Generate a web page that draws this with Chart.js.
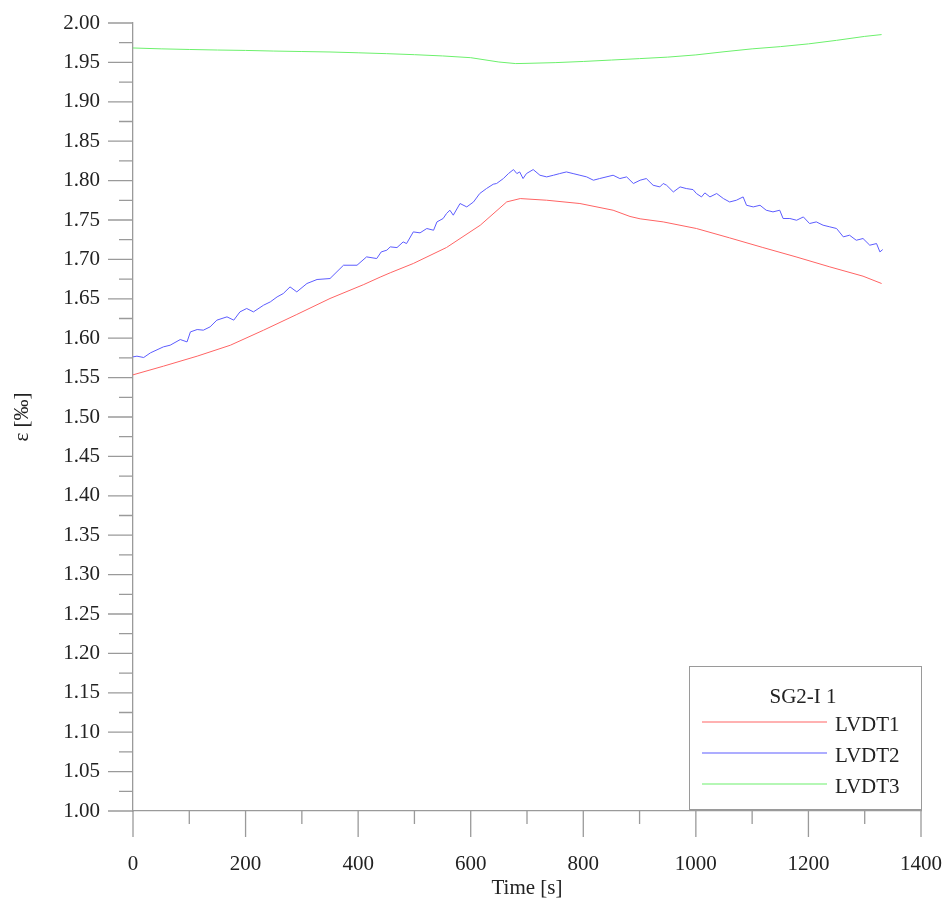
<!DOCTYPE html>
<html>
<head>
    <title>SG2-I 1 strain</title>
    <script src="https://cdn.jsdelivr.net/npm/chart.js@4.4.0/dist/chart.umd.min.js"></script>
    <style>
        body {
            margin: 0;
            background: #fff;
        }
        #chart {
            display: block;
        }
    </style>
</head>
<body>
    <canvas id="chart" width="949" height="903"></canvas>

    <script>
        // Values
        const seriesNames = ['LVDT1', 'LVDT2', 'LVDT3'];
        const legendTitle = 'SG2-I 1';

        const tRed = [0, 54, 114, 173, 232, 291, 350, 410, 439, 457, 498, 557, 617, 664, 688, 735, 794, 853, 883, 901, 942, 1001, 1060, 1119, 1178, 1238, 1297, 1330];
        const vRed = [1.5535, 1.5645, 1.5772, 1.5911, 1.6102, 1.6301, 1.6504, 1.6681, 1.6775, 1.6830, 1.6948, 1.7151, 1.7434, 1.7730, 1.7772, 1.7751, 1.7709, 1.7624, 1.7545, 1.7515, 1.7476, 1.7392, 1.7273, 1.7151, 1.7032, 1.6905, 1.6787, 1.6694];

        const tBlue = [0, 7, 19, 31, 54, 66, 84, 96, 102, 114, 125, 137, 149, 167, 179, 190, 202, 214, 232, 244, 256, 267, 279, 291, 309, 327, 350, 374, 398, 415, 433, 441, 451, 457, 469, 480, 486, 498, 510, 522, 534, 540, 551, 557, 563, 569, 581, 593, 605, 616, 628, 640, 646, 658, 667, 676, 682, 687, 693, 699, 711, 723, 735, 747, 758, 770, 782, 794, 806, 818, 829, 853, 865, 877, 889, 901, 912, 924, 936, 942, 948, 960, 972, 983, 995, 1001, 1010, 1016, 1025, 1037, 1049, 1060, 1072, 1084, 1090, 1102, 1114, 1125, 1137, 1149, 1155, 1167, 1179, 1191, 1202, 1214, 1226, 1238, 1250, 1262, 1273, 1285, 1297, 1309, 1321, 1327, 1332];
        const vBlue = [1.5763, 1.5772, 1.5755, 1.5814, 1.5890, 1.5911, 1.5983, 1.5953, 1.6080, 1.6110, 1.6102, 1.6144, 1.6229, 1.6271, 1.6229, 1.6334, 1.6377, 1.6334, 1.6419, 1.6461, 1.6524, 1.6567, 1.6651, 1.6588, 1.6694, 1.6745, 1.6757, 1.6926, 1.6926, 1.7032, 1.7011, 1.7095, 1.7117, 1.7159, 1.7150, 1.7222, 1.7201, 1.7349, 1.7337, 1.7392, 1.7370, 1.7476, 1.7519, 1.7582, 1.7624, 1.7561, 1.7709, 1.7666, 1.7729, 1.7836, 1.7899, 1.7954, 1.7963, 1.8026, 1.8089, 1.8140, 1.8089, 1.8110, 1.8026, 1.8089, 1.8140, 1.8068, 1.8047, 1.8068, 1.8089, 1.8110, 1.8089, 1.8068, 1.8047, 1.8005, 1.8026, 1.8068, 1.8026, 1.8047, 1.7963, 1.8005, 1.8026, 1.7941, 1.7920, 1.7963, 1.7941, 1.7856, 1.7920, 1.7899, 1.7886, 1.7836, 1.7793, 1.7844, 1.7793, 1.7836, 1.7772, 1.7729, 1.7751, 1.7793, 1.7687, 1.7666, 1.7687, 1.7624, 1.7603, 1.7624, 1.7519, 1.7519, 1.7497, 1.7539, 1.7455, 1.7476, 1.7434, 1.7413, 1.7392, 1.7286, 1.7307, 1.7243, 1.7265, 1.7180, 1.7201, 1.7095, 1.7125];

        const tGreen = [0, 50, 100, 150, 200, 250, 300, 350, 400, 450, 500, 550, 600, 650, 680, 700, 750, 800, 850, 900, 950, 1000, 1050, 1100, 1150, 1200, 1250, 1300, 1330];
        const vGreen = [1.9683, 1.9672, 1.9664, 1.9657, 1.9652, 1.9644, 1.9638, 1.9632, 1.9622, 1.9611, 1.9598, 1.9582, 1.9560, 1.9505, 1.9485, 1.9488, 1.9497, 1.9512, 1.9530, 1.9548, 1.9567, 1.9595, 1.9635, 1.9672, 1.9700, 1.9735, 1.9780, 1.9830, 1.9853];

        const xTicks = [0, 200, 400, 600, 800, 1000, 1200, 1400];
        const yTicks = [1.00, 1.05, 1.10, 1.15, 1.20, 1.25, 1.30, 1.35, 1.40, 1.45, 1.50, 1.55, 1.60, 1.65, 1.70, 1.75, 1.80, 1.85, 1.90, 1.95, 2.00];

        const colors = ['#ff6464', '#5c5cff', '#6cf06c'];
        const axisColor = '#9a9a9a';
        const textColor = '#222';
        const fontFamily = '"Liberation Serif", "Times New Roman", serif';

        function toPoints(ts, vs) {
            return ts.map((t, i) => ({ x: t, y: vs[i] }));
        }

        // outward major/minor tick marks and the legend box
        const decorations = {
            id: 'decorations',
            afterDraw(chart) {
                const ctx = chart.ctx;
                const xs = chart.scales.x, ys = chart.scales.y;
                const area = chart.chartArea;
                ctx.save();
                ctx.strokeStyle = axisColor;
                ctx.lineWidth = 1.3;
                ctx.beginPath();
                xTicks.forEach((v, i) => {
                    const px = xs.getPixelForValue(v);
                    ctx.moveTo(px, area.bottom);
                    ctx.lineTo(px, area.bottom + 26);
                    if (i < xTicks.length - 1) {
                        const mx = xs.getPixelForValue((v + xTicks[i + 1]) / 2);
                        ctx.moveTo(mx, area.bottom);
                        ctx.lineTo(mx, area.bottom + 13);
                    }
                });
                yTicks.forEach((v, i) => {
                    const py = ys.getPixelForValue(v);
                    ctx.moveTo(area.left - 25, py);
                    ctx.lineTo(area.left, py);
                    if (i < yTicks.length - 1) {
                        const my = ys.getPixelForValue((v + yTicks[i + 1]) / 2);
                        ctx.moveTo(area.left - 14, my);
                        ctx.lineTo(area.left, my);
                    }
                });
                ctx.stroke();

                // legend
                const w = 232, h = 143;
                const right = area.right, bottom = area.bottom - 2;
                const left = right - w, top = bottom - h;
                ctx.fillStyle = '#fff';
                ctx.fillRect(left, top, w, h);
                ctx.strokeStyle = axisColor;
                ctx.lineWidth = 1;
                ctx.strokeRect(left + 0.5, top + 0.5, w, h);
                ctx.font = '21px ' + fontFamily;
                ctx.fillStyle = textColor;
                ctx.textAlign = 'center';
                ctx.textBaseline = 'middle';
                ctx.fillText(legendTitle, left + 114, top + 31);
                ctx.textAlign = 'left';
                chart.data.datasets.forEach((ds, i) => {
                    const ly = top + 56 + i * 31;
                    ctx.strokeStyle = ds.borderColor;
                    ctx.lineWidth = 1.2;
                    ctx.beginPath();
                    ctx.moveTo(left + 13, ly);
                    ctx.lineTo(left + 138, ly);
                    ctx.stroke();
                    ctx.fillText(ds.label, left + 146, ly + 3);
                });
                ctx.restore();
            }
        };

        new Chart(document.getElementById('chart'), {
            type: 'line',
            data: {
                datasets: [
                    { label: seriesNames[0], data: toPoints(tRed, vRed), borderColor: colors[0] },
                    { label: seriesNames[1], data: toPoints(tBlue, vBlue), borderColor: colors[1] },
                    { label: seriesNames[2], data: toPoints(tGreen, vGreen), borderColor: colors[2] }
                ]
            },
            options: {
                responsive: false,
                animation: false,
                layout: { padding: { top: 23, right: 28, left: 0, bottom: 0 } },
                elements: {
                    point: { radius: 0 },
                    line: { borderWidth: 1, tension: 0 }
                },
                plugins: {
                    legend: { display: false },
                    tooltip: { enabled: false }
                },
                scales: {
                    x: {
                        type: 'linear',
                        min: 0,
                        max: 1400,
                        afterBuildTicks: (s) => { s.ticks = xTicks.map(v => ({ value: v })); },
                        afterFit: (s) => {
                            s.height = 92;
                            s.paddingLeft = 0;
                            s.paddingRight = 0;
                        },
                        grid: { display: false, drawTicks: false },
                        border: { display: true, color: axisColor, width: 1.3 },
                        ticks: {
                            padding: 41,
                            maxRotation: 0,
                            color: textColor,
                            font: { family: fontFamily, size: 21 },
                            callback: (v) => String(v)
                        },
                        title: {
                            display: true,
                            text: 'Time [s]',
                            color: textColor,
                            font: { family: fontFamily, size: 21 },
                            padding: { top: 0, bottom: 2 }
                        }
                    },
                    y: {
                        type: 'linear',
                        min: 1,
                        max: 2,
                        afterBuildTicks: (s) => { s.ticks = yTicks.map(v => ({ value: v })); },
                        afterFit: (s) => {
                            s.width = 133;
                            s.paddingTop = 0;
                            s.paddingBottom = 0;
                        },
                        grid: { display: false, drawTicks: false },
                        border: { display: true, color: axisColor, width: 1.3 },
                        ticks: {
                            padding: 33,
                            color: textColor,
                            font: { family: fontFamily, size: 21 },
                            callback: (v) => v.toFixed(2)
                        },
                        title: {
                            display: true,
                            text: 'ε [‰]',
                            color: textColor,
                            font: { family: fontFamily, size: 21 },
                            padding: { top: 10, bottom: 0 }
                        }
                    }
                }
            },
            plugins: [decorations]
        });
    </script>
</body>
</html>
